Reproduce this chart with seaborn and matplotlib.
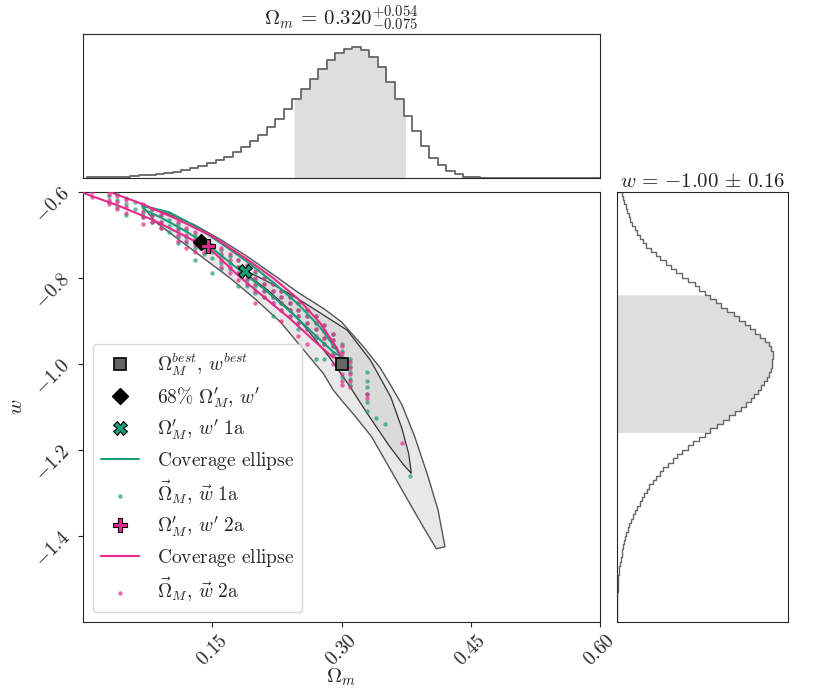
import numpy as np
import matplotlib
matplotlib.use("Agg")
import matplotlib.pyplot as plt
import seaborn as sns

# ---- marginal of Omega_m (heights relative to peak bin) ----
om_edges = np.linspace(0.005, 0.6, 61)
om_hist = [0.003, 0.004, 0.005, 0.008, 0.010, 0.013, 0.018, 0.025, 0.032, 0.040,
           0.048, 0.058, 0.074, 0.090, 0.113, 0.138, 0.162, 0.197, 0.236, 0.282,
           0.331, 0.390, 0.454, 0.526, 0.603, 0.680, 0.759, 0.836, 0.903, 0.954,
           0.987, 1.000, 0.979, 0.928, 0.851, 0.736, 0.608, 0.474, 0.359, 0.241,
           0.154, 0.100, 0.050, 0.026, 0.010, 0.004, 0.002, 0.001, 0.0, 0.0,
           0.0, 0.0, 0.0, 0.0, 0.0, 0.0, 0.0, 0.0, 0.0, 0.0]
om_lo, om_hi = 0.245, 0.374

# ---- marginal of w ----
w_edges = np.linspace(-1.6, -0.6, 101)
w_hist = [0.001, 0.001, 0.002, 0.002, 0.003, 0.004, 0.005, 0.006, 0.007, 0.009,
          0.011, 0.014, 0.017, 0.021, 0.026, 0.031, 0.036, 0.041, 0.047, 0.053,
          0.060, 0.070, 0.081, 0.092, 0.103, 0.117, 0.132, 0.147, 0.162, 0.177,
          0.193, 0.210, 0.230, 0.255, 0.278, 0.300, 0.330, 0.360, 0.388, 0.420,
          0.455, 0.490, 0.528, 0.565, 0.600, 0.640, 0.680, 0.720, 0.758, 0.795,
          0.830, 0.862, 0.883, 0.905, 0.925, 0.945, 0.963, 0.978, 0.990, 0.995,
          0.998, 1.000, 1.000, 0.990, 0.975, 0.950, 0.920, 0.890, 0.855, 0.820,
          0.787, 0.750, 0.710, 0.670, 0.635, 0.598, 0.564, 0.530, 0.500, 0.460,
          0.420, 0.383, 0.350, 0.315, 0.277, 0.250, 0.220, 0.190, 0.170, 0.150,
          0.130, 0.115, 0.100, 0.088, 0.077, 0.067, 0.057, 0.048, 0.040, 0.033]
w_lo, w_hi = -1.16, -0.84

# ---- 2D credible regions (outline) ----
outer_om = [0.068, 0.10, 0.13, 0.16, 0.19, 0.22, 0.25, 0.28, 0.30, 0.326, 0.345, 0.357,
            0.37, 0.385, 0.40, 0.412, 0.42,
            0.41, 0.395, 0.375, 0.355, 0.335, 0.315, 0.30, 0.29, 0.279, 0.256, 0.23,
            0.20, 0.17, 0.14, 0.11, 0.085]
outer_w = [-0.632, -0.652, -0.678, -0.712, -0.75, -0.792, -0.835, -0.873, -0.903, -0.962,
           -1.01, -1.05, -1.095, -1.17, -1.26, -1.34, -1.425,
           -1.43, -1.38, -1.31, -1.24, -1.17, -1.12, -1.085, -1.06, -1.023, -0.968, -0.905,
           -0.85, -0.80, -0.755, -0.71, -0.672]
inner_om = [0.19, 0.22, 0.25, 0.28, 0.3065, 0.3336, 0.357, 0.37, 0.378, 0.381,
            0.372, 0.355, 0.33, 0.31, 0.287, 0.26, 0.24, 0.215, 0.195]
inner_w = [-0.785, -0.815, -0.85, -0.888, -0.922, -0.992, -1.077, -1.15, -1.21, -1.255,
           -1.235, -1.19, -1.116, -1.054, -0.988, -0.92, -0.875, -0.83, -0.80]

# ---- coverage ellipses ----
ell1_om = [0.069, 0.10, 0.13, 0.16, 0.19, 0.22, 0.25, 0.275, 0.295, 0.30,
           0.29, 0.27, 0.24, 0.21, 0.18, 0.15, 0.12, 0.09, 0.072, 0.069]
ell1_w = [-0.633, -0.648, -0.68, -0.72, -0.762, -0.81, -0.862, -0.915, -0.97, -0.985,
          -0.972, -0.935, -0.878, -0.826, -0.78, -0.732, -0.693, -0.66, -0.643, -0.633]
ell2_om = [-0.01, 0.03, 0.07, 0.11, 0.15, 0.19, 0.22, 0.25, 0.275, 0.295, 0.30,
           0.29, 0.27, 0.24, 0.21, 0.18, 0.15, 0.12, 0.08, 0.04, 0.0, -0.01]
ell2_w = [-0.575, -0.60, -0.63, -0.665, -0.704, -0.757, -0.80, -0.85, -0.905, -0.965, -0.99,
          -0.985, -0.95, -0.895, -0.845, -0.795, -0.738, -0.705, -0.665, -0.632, -0.603, -0.575]

# ---- sampled points, column by column ----
cols_1a = [0.03, 0.04, 0.05, 0.06, 0.07, 0.08, 0.09, 0.10, 0.11, 0.12, 0.13, 0.14, 0.15,
           0.16, 0.17, 0.18, 0.19, 0.20, 0.21, 0.22, 0.23, 0.24, 0.25, 0.26, 0.27, 0.28,
           0.29, 0.30, 0.31, 0.33, 0.34, 0.35, 0.38]
vals_1a = [[-0.61, -0.625], [-0.605, -0.62, -0.635], [-0.615, -0.63, -0.655], [-0.625, -0.64],
           [-0.635, -0.65, -0.66], [-0.64, -0.655, -0.67], [-0.655, -0.67, -0.685],
           [-0.665, -0.68, -0.695], [-0.675, -0.69, -0.705, -0.72], [-0.69, -0.705, -0.72],
           [-0.70, -0.715, -0.73, -0.76], [-0.715, -0.73, -0.745], [-0.725, -0.74, -0.755, -0.79],
           [-0.735, -0.75, -0.765, -0.78], [-0.75, -0.765, -0.78], [-0.76, -0.775, -0.79, -0.82],
           [-0.775, -0.79, -0.805, -0.82], [-0.79, -0.805, -0.82, -0.835],
           [-0.80, -0.815, -0.83, -0.845], [-0.815, -0.83, -0.845, -0.86, -0.89],
           [-0.83, -0.845, -0.86, -0.875], [-0.845, -0.86, -0.875, -0.89],
           [-0.86, -0.875, -0.89, -0.905, -0.92], [-0.875, -0.89, -0.905, -0.92],
           [-0.89, -0.905, -0.92, -0.94, -0.99], [-0.91, -0.925, -0.94, -0.955, -0.99],
           [-0.93, -0.945, -0.96, -0.975], [-0.955, -0.97, -0.985, -1.03],
           [-0.99, -1.005, -1.02, -1.035, -1.05], [-1.02, -1.04, -1.055, -1.07, -1.09, -1.11],
           [-1.125], [-1.14], [-1.26]]
cols_2a = [0.0, 0.01, 0.03, 0.04, 0.05, 0.07, 0.08, 0.09, 0.11, 0.12, 0.13, 0.14, 0.16,
           0.17, 0.18, 0.19, 0.20, 0.21, 0.22, 0.23, 0.24, 0.25, 0.26, 0.27, 0.28, 0.29,
           0.30, 0.31, 0.33, 0.37]
vals_2a = [[-0.595], [-0.60, -0.612], [-0.605, -0.62, -0.63], [-0.61, -0.625, -0.64],
           [-0.62, -0.635, -0.65], [-0.63, -0.645, -0.66, -0.675], [-0.64, -0.655, -0.67],
           [-0.655, -0.67, -0.685], [-0.67, -0.685, -0.70, -0.715], [-0.685, -0.70, -0.715, -0.73],
           [-0.695, -0.71, -0.725, -0.74], [-0.71, -0.725, -0.74], [-0.73, -0.745, -0.76, -0.775],
           [-0.745, -0.76, -0.775, -0.79], [-0.76, -0.775, -0.79, -0.805],
           [-0.77, -0.785, -0.80, -0.815], [-0.785, -0.80, -0.815, -0.83, -0.86],
           [-0.80, -0.815, -0.83, -0.845], [-0.815, -0.83, -0.845, -0.86],
           [-0.83, -0.845, -0.86, -0.875, -0.90], [-0.845, -0.86, -0.875, -0.89],
           [-0.86, -0.875, -0.89, -0.905, -0.935], [-0.875, -0.89, -0.905, -0.92, -0.955],
           [-0.89, -0.905, -0.92, -0.935], [-0.91, -0.925, -0.94, -0.955],
           [-0.93, -0.945, -0.96, -0.98, -1.0], [-0.96, -0.975, -1.01, -1.025, -1.04, -1.05],
           [-0.995, -1.01, -1.025, -1.04, -1.055], [-1.07, -1.08], [-1.185]]

best = (0.30, -1.00)
p68 = (0.137, -0.717)
p1a = (0.1875, -0.784)
p2a = (0.145, -0.727)

xticks = [0.15, 0.30, 0.45, 0.60]
xticklabels = ["$0.15$", "$0.30$", "$0.45$", "$0.60$"]
yticks = [-0.6, -0.8, -1.0, -1.2, -1.4]
yticklabels = ["$-0.6$", "$-0.8$", "$-1.0$", "$-1.2$", "$-1.4$"]

teal = "#1b9e77"
pink = "#e7298a"


def step_outline(edges, vals):
    # stepped outline of a binned histogram
    xo = np.repeat(edges, 2)
    yo = np.concatenate([[0.0], np.repeat(vals, 2), [0.0]])
    return xo, yo


sns.set_style("ticks")
plt.rcParams["mathtext.fontset"] = "cm"
plt.rcParams["font.family"] = ["DejaVu Serif"]

fig = plt.figure(figsize=(8.3, 6.92), dpi=100)
ax_top = fig.add_axes([0.100, 0.743, 0.623, 0.2074])
ax = fig.add_axes([0.100, 0.1012, 0.623, 0.622])
ax_r = fig.add_axes([0.743, 0.1012, 0.2067, 0.622])

# top marginal
xs = np.linspace(om_lo, om_hi, 500)
ax_top.fill_between(xs, np.asarray(om_hist)[np.searchsorted(om_edges, xs) - 1],
                    color="#dedede", lw=0, zorder=0)
ox, oy = step_outline(om_edges, om_hist)
sns.lineplot(x=ox, y=oy, sort=False, estimator=None, color="#666666", lw=1.3, ax=ax_top)
ax_top.set_xlim(0, 0.6)
ax_top.set_ylim(0, 1.1)
ax_top.set_xticks([])
ax_top.set_yticks([])
ax_top.set_title(r"$\Omega_m \,=\, 0.320^{+0.054}_{-0.075}$", fontsize=15, pad=3)

# right marginal
ws = np.linspace(w_lo, w_hi, 500)
ax_r.fill_betweenx(ws, np.asarray(w_hist)[np.searchsorted(w_edges, ws) - 1],
                   color="#dedede", lw=0, zorder=0)
wy, wx = step_outline(w_edges, w_hist)
sns.lineplot(x=wx, y=wy, sort=False, estimator=None, color="#666666", lw=1.0, ax=ax_r)
ax_r.set_ylim(-1.6, -0.6)
ax_r.set_xlim(0, 1.1)
ax_r.set_xticks([])
ax_r.set_yticks([])
ax_r.set_title(r"$w \,=\, {-1.00} \,\pm\, 0.16$", fontsize=15, pad=3)

# main panel
ax.fill(outer_om, outer_w, facecolor="#e8e8e8", edgecolor="#555555", lw=1.0, zorder=1)
ax.fill(inner_om, inner_w, facecolor="#dadada", edgecolor="#333333", lw=0.9, zorder=1)

om_1a = [c for c, v in zip(cols_1a, vals_1a) for _ in v]
w_1a = [x for v in vals_1a for x in v]
om_2a = [c for c, v in zip(cols_2a, vals_2a) for _ in v]
w_2a = [x for v in vals_2a for x in v]

ax.plot(*best, "s", color="#666666", mec="k", mew=1.2, ms=9, zorder=6,
        label=r"$\Omega_M^{best},\, w^{best}$")
ax.plot(*p68, "D", color="k", ms=8, zorder=6, label=r"$68\%\ \Omega_M',\, w'$")
ax.plot(*p1a, "X", color=teal, mec="k", mew=0.8, ms=10, zorder=6,
        label=r"$\Omega_M',\, w'\ 1\mathrm{a}$")
ax.plot(ell1_om, ell1_w, color=teal, lw=1.5, zorder=4, label=r"$\mathrm{Coverage\ ellipse}$")
sns.scatterplot(x=om_1a, y=w_1a, color=teal, s=10, marker="o", linewidth=0, alpha=0.7,
                zorder=3, ax=ax, label=r"$\vec{\Omega}_M,\, \vec{w}\ 1\mathrm{a}$")
ax.plot(*p2a, "P", color=pink, mec="k", mew=0.8, ms=10, zorder=6,
        label=r"$\Omega_M',\, w'\ 2\mathrm{a}$")
ax.plot(ell2_om, ell2_w, color=pink, lw=1.5, zorder=4, label=r"$\mathrm{Coverage\ ellipse}$")
sns.scatterplot(x=om_2a, y=w_2a, color=pink, s=10, marker="o", linewidth=0, alpha=0.7,
                zorder=3, ax=ax, label=r"$\vec{\Omega}_M,\, \vec{w}\ 2\mathrm{a}$")

ax.set_xlim(0, 0.6)
ax.set_ylim(-1.6, -0.6)
ax.set_xticks(xticks)
ax.set_xticklabels(xticklabels, rotation=45, fontsize=14)
ax.set_yticks(yticks)
ax.set_yticklabels(yticklabels, rotation=45, fontsize=14)
ax.set_xlabel(r"$\Omega_m$", fontsize=15, labelpad=-2)
ax.set_ylabel(r"$w$", fontsize=15)

ax.legend(loc="lower left", fontsize=14, frameon=True, labelspacing=0.38,
          handletextpad=0.9)

fig.savefig("out.png", dpi=100)
